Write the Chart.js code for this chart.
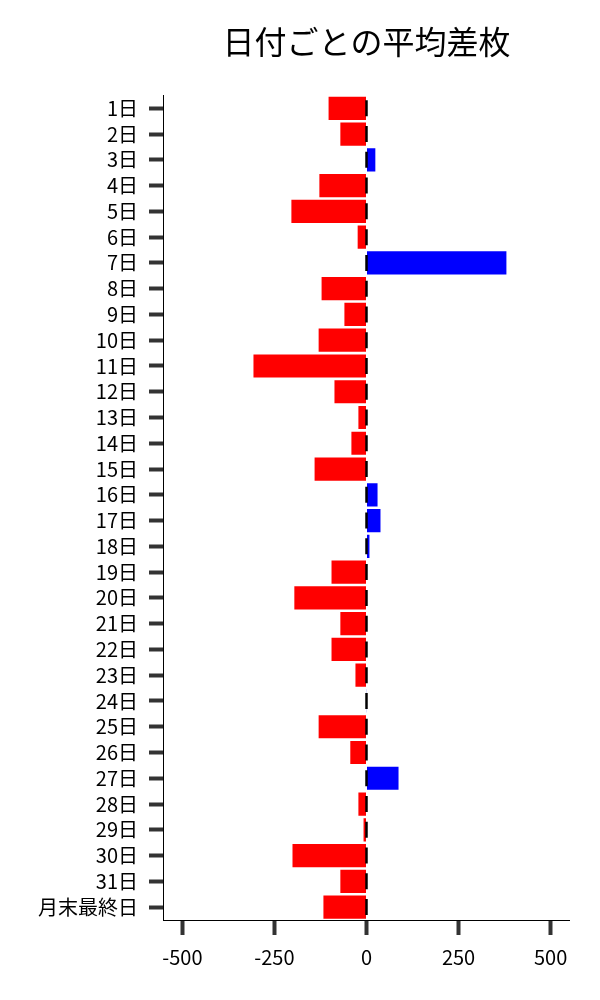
<!DOCTYPE html>
<html>
<head>
<meta charset="utf-8">
<script src="https://cdn.jsdelivr.net/npm/chart.js@4"></script>
<style>
  html, body { margin: 0; padding: 0; background: #fff; }
  #wrap { width: 600px; height: 1000px; }
</style>
</head>
<body>
<div id="wrap"><canvas id="diff-chart" width="600" height="1000"></canvas></div>
<script>
// Average difference per day
const days = ['1日', '2日', '3日', '4日', '5日', '6日', '7日', '8日', '9日', '10日',
    '11日', '12日', '13日', '14日', '15日', '16日', '17日', '18日', '19日', '20日',
    '21日', '22日', '23日', '24日', '25日', '26日', '27日', '28日', '29日', '30日',
    '31日', '月末最終日'];
const avgDiff = [-103, -71, 24, -128, -204, -24, 380, -122, -60, -130,
    -307, -87, -22, -41, -141, 30, 38, 8, -95, -196,
    -71, -95, -30, 1, -130, -44, 87, -22, -8, -201,
    -71, -117];
const errMarks = days.map(() => 0);
const xTicks = [-500, -250, 0, 250, 500];

const FONT = '"Noto Sans CJK JP", "Noto Sans", sans-serif';

const ctx = document.getElementById('diff-chart');
const diffChart = new Chart(ctx, {
    data: {
        labels: days,
        datasets: [{
            type: 'bar',
            data: avgDiff,
            backgroundColor: function(c) {
                return c.raw < 0 ? '#ff0000' : '#0000ff';
            },
            borderWidth: 0,
            barPercentage: 0.9,
            categoryPercentage: 1.0,
            order: 2
        }, {
            // small black marks at zero
            type: 'line',
            data: errMarks,
            showLine: false,
            pointStyle: 'line',
            rotation: 90,
            pointRadius: 8,
            pointBorderWidth: 2.5,
            pointBorderColor: '#000',
            pointBackgroundColor: '#000',
            order: 1
        }]
    },
    options: {
        indexAxis: 'y',
        responsive: false,
        animation: false,
        layout: {
            padding: { top: 9, left: 27, right: 31, bottom: 21 }
        },
        plugins: {
            legend: { display: false },
            tooltip: { enabled: false },
            title: {
                display: true,
                text: '日付ごとの平均差枚',
                fullSize: false,
                color: '#000',
                font: { family: FONT, size: 32, weight: 'normal' },
                padding: { top: 14, bottom: 34 }
            }
        },
        scales: {
            x: {
                type: 'linear',
                min: -550,
                max: 550,
                afterBuildTicks: function(scale) {
                    scale.ticks = xTicks.map(v => ({ value: v }));
                },
                grid: {
                    drawOnChartArea: false,
                    tickLength: 15,
                    tickWidth: 4,
                    tickColor: '#333'
                },
                border: { display: true, color: '#000', width: 1 },
                ticks: {
                    color: '#000',
                    padding: 10,
                    maxRotation: 0,
                    font: { family: FONT, size: 20 }
                }
            },
            y: {
                type: 'category',
                offset: true,
                grid: {
                    offset: false,
                    drawOnChartArea: false,
                    tickLength: 15,
                    tickWidth: 4,
                    tickColor: '#333'
                },
                border: { display: true, color: '#000', width: 1 },
                ticks: {
                    color: '#000',
                    padding: 11,
                    autoSkip: false,
                    font: { family: FONT, size: 20 }
                }
            }
        }
    }
});
</script>
</body>
</html>
